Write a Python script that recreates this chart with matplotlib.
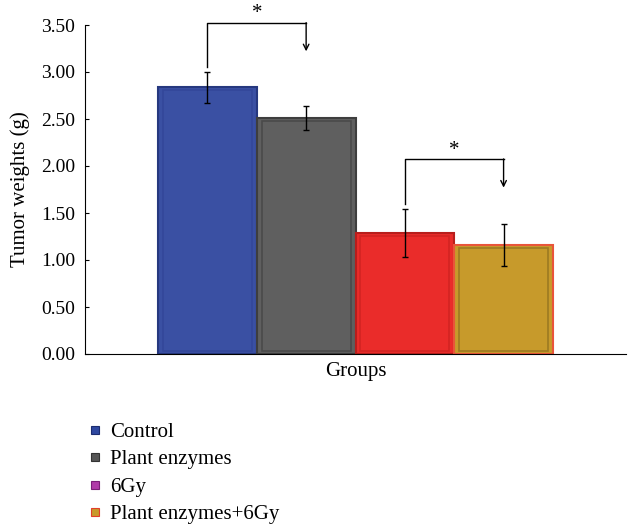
import numpy as np
import matplotlib.pyplot as plt
from matplotlib.lines import Line2D

plt.rcParams['font.family'] = ['Liberation Serif', 'DejaVu Serif']

# Data
groups = ['Control', 'Plant enzymes', '6Gy', 'Plant enzymes+6Gy']
weights = [2.84, 2.51, 1.29, 1.16]
errors = [0.165, 0.13, 0.255, 0.22]
bar_colors = ['#3a50a3', '#5f5f5f', '#ea2c2a', '#c79a2b']
edge_colors = ['#26387f', '#3e3e3e', '#b81e1c', '#e8553a']
inner_edges = ['#33479a', '#4a4a4a', '#d22422', '#9c7a22']
legend_colors = ['#2f48a0', '#555555', '#b03aa8', '#c79a2b']
legend_edges = ['#1c2c70', '#333333', '#7a1f78', '#e0402a']

# brackets: (left bar, right bar, bottom left, top, arrow end)
brackets = [(0, 1, 3.05, 3.52, 3.22), (2, 3, 1.60, 2.07, 1.77)]

fig = plt.figure(figsize=(6.28, 5.27), dpi=100)
ax = fig.add_axes([85 / 628, 1 - 354 / 527, 541 / 628, 329 / 527])

x = np.arange(len(groups))
ax.bar(x, weights, width=1.0, color=bar_colors, edgecolor=edge_colors, linewidth=1.5)
# slight bevel look
ax.bar(x, np.array(weights) - 0.07, bottom=0.035, width=0.9, color='none',
       edgecolor=inner_edges, linewidth=1.2)
ax.errorbar(x, weights, yerr=errors, fmt='none', ecolor='black', elinewidth=1,
            capsize=2.5, capthick=1)

# significance brackets
for a, b, y0, y1, y2 in brackets:
    ax.plot([a, a, b], [y0, y1, y1], color='black', lw=1, clip_on=False)
    ax.annotate('', xy=(b, y2), xytext=(b, y1 + 0.005),
                arrowprops=dict(arrowstyle='->', color='black', lw=1,
                                shrinkA=0, shrinkB=0), annotation_clip=False)
    ax.text((a + b) / 2, y1 + 0.1, '*', ha='center', va='center', fontsize=15,
            clip_on=False)

ax.set_xlim(-1.24, 4.24)
ax.set_ylim(0, 3.5)
ax.set_yticks(np.arange(0, 3.51, 0.5))
ax.set_yticklabels(['%.2f' % v for v in np.arange(0, 3.51, 0.5)], fontsize=14)
ax.set_xticks([])
ax.tick_params(axis='y', direction='in', length=3, pad=7)
ax.spines['top'].set_visible(False)
ax.spines['right'].set_visible(False)
ax.set_ylabel('Tumor weights (g)', fontsize=15, labelpad=8)
ax.set_xlabel('Groups', fontsize=15, labelpad=6)

handles = [Line2D([], [], marker='s', linestyle='none', markersize=6,
                  markerfacecolor=c, markeredgecolor=e, markeredgewidth=0.8)
           for c, e in zip(legend_colors, legend_edges)]
fig.legend(handles, groups, loc='upper left', bbox_to_anchor=(80 / 628, 1 - 414 / 527),
           frameon=False, fontsize=15, handlelength=0.6, handletextpad=0.45,
           labelspacing=0.38, borderaxespad=0)

fig.savefig('out.png', dpi=100)
